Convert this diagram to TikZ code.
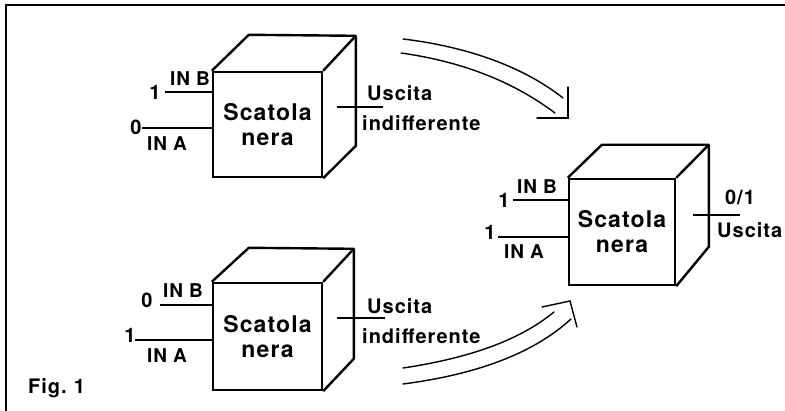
\documentclass[tikz,border=0pt]{standalone}
\usepackage{fontspec}
\setmainfont[LetterSpace=5]{TeX Gyre Heros}
\tikzset{
  face/.style={draw, line width=2.4pt, fill=white, inner sep=0pt, align=center,
    font=\fontsize{23}{25}\selectfont\bfseries},
  edge/.style={line width=2.4pt, line join=round},
  wire/.style={line width=1.8pt},
  lbl/.style={font=\fontsize{19}{20}\selectfont\bfseries, inner sep=0pt},
  num/.style={font=\fontsize{20}{22}\selectfont\bfseries, inner sep=0pt},
  outl/.style={font=\fontsize{20}{22}\selectfont\bfseries, inner sep=0pt, anchor=west},
  flow/.style={line width=1.4pt, line cap=round},
}
\begin{document}
\begin{tikzpicture}[x=1pt,y=-1pt]
\useasboundingbox (0,0) rectangle (785,411);
% frame
\draw[line width=2pt] (6,411) -- (6,5) -- (785,5);

% ---------- box 1 ----------
\node[face, minimum width=109pt, minimum height=105pt] (f1) at (267.5,124.5) {Scatola\\nera};
\draw[edge] (f1.north west) -- ++(37,-36) coordinate (k1) -- ++(107,1) coordinate (r1)
  -- ++(0,110) -- (f1.south east);
\draw[edge] (f1.north east) -- (r1);
\coordinate (b1) at (165,92);
\coordinate (a1) at (142,128);
\draw[wire] (b1) -- (b1 -| f1.west);
\draw[wire] (a1) -- (a1 -| f1.west);
\node[num] (b1v) at (155,92) {1};
\node[lbl] (b1l) at (190,79) {IN B};
\node[num] (a1v) at (136,127) {0};
\node[lbl] (a1l) at (167,144) {IN A};
\coordinate (o1) at (337,107);
\coordinate (o1e) at (383,107);
\draw[wire] (o1) -- (o1e);
\node[outl] (u1) at (367,93) {Uscita};
\node[outl] (i1) at (362,123) {indifferente};

% ---------- box 2 ----------
\node[face, minimum width=109pt, minimum height=107pt] (f2) at (267.5,336.5) {Scatola\\nera};
\draw[edge] (f2.north west) -- ++(37,-34) coordinate (k2) -- ++(105,1) coordinate (r2)
  -- ++(0,110) -- (f2.south east);
\draw[edge] (f2.north east) -- (r2);
\coordinate (b2) at (160,305);
\coordinate (a2) at (135,340);
\draw[wire] (b2) -- (b2 -| f2.west);
\draw[wire] (a2) -- (a2 -| f2.west);
\node[num] (b2v) at (147,300) {0};
\node[lbl] (b2l) at (183,291) {IN B};
\node[num] (a2v) at (130,335) {1};
\node[lbl] (a2l) at (167,356) {IN A};
\coordinate (o2) at (337,318);
\coordinate (o2e) at (385,318);
\draw[wire] (o2) -- (o2e);
\node[outl] (u2) at (367,306) {Uscita};
\node[outl] (i2) at (362,336) {indifferente};

% ---------- box 3 ----------
\node[face, minimum width=106pt, minimum height=106pt] (f3) at (622,232) {Scatola\\nera};
\draw[edge] (f3.north west) -- ++(34,-33) coordinate (k3) -- ++(107,0) coordinate (r3)
  -- ++(0,102) -- (f3.south east);
\draw[edge] (f3.north east) -- (r3);
\coordinate (b3) at (513,200);
\coordinate (a3) at (498,237);
\draw[wire] (b3) -- (b3 -| f3.west);
\draw[wire] (a3) -- (a3 -| f3.west);
\node[num] (b3v) at (504,200) {1};
\node[lbl] (b3l) at (537,187) {IN B};
\node[num] (a3v) at (490,232) {1};
\node[lbl] (a3l) at (524,252) {IN A};
\coordinate (o3) at (693,215);
\coordinate (o3e) at (740,215);
\draw[wire] (o3) -- (o3e);
\node[num] (o3v) at (740,197) {0/1};
\node[outl] (u3) at (717,230) {Uscita};

% ---------- flow arrows ----------
\coordinate (ta1) at (403,39);  \coordinate (ta2) at (563,98);
\coordinate (tb1) at (401,53);  \coordinate (tb2) at (555,113);
\coordinate (th1) at (568,87);  \coordinate (th2) at (568,118); \coordinate (th3) at (537,118);
\draw[flow] (ta1) .. controls (470,47) and (525,68) .. (ta2);
\draw[flow] (tb1) .. controls (465,62) and (515,83) .. (tb2);
\draw[flow, line join=miter] (th1) -- (th2) -- (th3);

\coordinate (ba1) at (403,368); \coordinate (ba2) at (554,312);
\coordinate (bb1) at (403,384); \coordinate (bb2) at (571,319);
\coordinate (bh1) at (542,307); \coordinate (bh2) at (570,301); \coordinate (bh3) at (577,327);
\draw[flow] (ba1) .. controls (470,358) and (520,340) .. (ba2);
\draw[flow] (bb1) .. controls (480,374) and (535,352) .. (bb2);
\draw[flow, line join=miter] (bh1) -- (bh2) -- (bh3);

\node[outl] (fig) at (28,388) {Fig.\hspace{7pt}1};
\end{tikzpicture}
\end{document}
